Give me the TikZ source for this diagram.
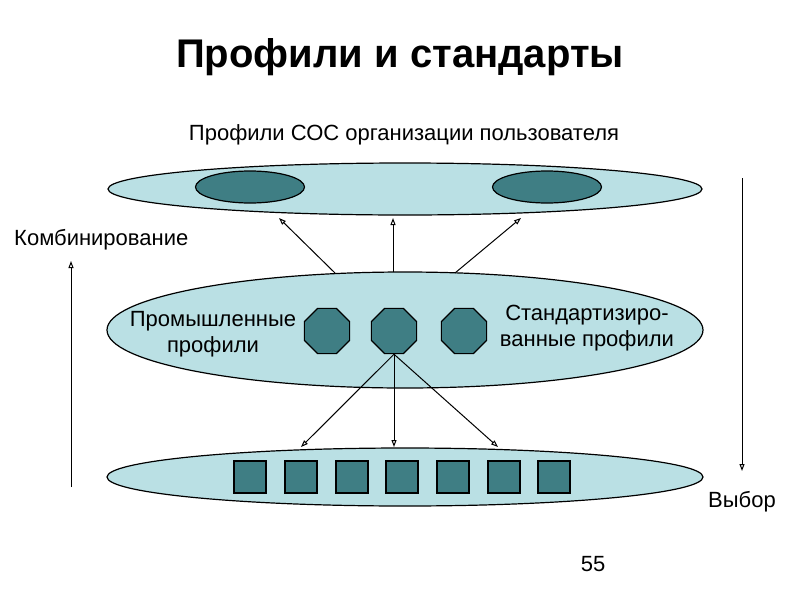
\documentclass[tikz,border=0pt]{standalone}
\usepackage{fontspec}
\setmainfont{Liberation Sans}
\usetikzlibrary{shapes.geometric,arrows.meta}
\definecolor{lightfill}{RGB}{186,224,228}
\definecolor{darkfill}{RGB}{63,126,132}
\tikzset{
  disc/.style={ellipse, draw=black, line width=1.2pt, fill=lightfill, inner sep=0pt},
  blob/.style={ellipse, draw=black, line width=1.2pt, fill=darkfill, inner sep=0pt, minimum width=109pt, minimum height=32pt},
  octo/.style={regular polygon, regular polygon sides=8, draw=black, line width=1.2pt, fill=darkfill, inner sep=0pt, minimum size=49pt},
  sq/.style={rectangle, draw=black, line width=1.2pt, fill=darkfill, inner sep=0pt, minimum width=32pt, minimum height=32pt},
  arr/.style={line width=1pt, -{Triangle[open, length=7pt, width=5pt]}},
  lbl/.style={font=\fontsize{22}{26}\selectfont, align=center, inner sep=0pt},
}
\begin{document}
\begin{tikzpicture}[x=1pt,y=-1pt]
\useasboundingbox (0,0) rectangle (800,600);
\node[font=\bfseries\fontsize{40}{44}\selectfont] (title) at (400,57) {Профили и стандарты};
\node[lbl] (toplbl) at (404,135) {Профили СОС организации пользователя};
% top
\node[disc, minimum width=594pt, minimum height=52pt] (T) at (405,189) {};
\node[blob] (b1) at (250,187) {};
\node[blob] (b2) at (547,187) {};
% middle
\node[disc, minimum width=596pt, minimum height=116pt] (M) at (405,330) {};
\node[octo] (o1) at (327,331) {};
\node[octo] (o2) at (394,331) {};
\node[octo] (o3) at (464,331) {};
\node[lbl] (ind) at (213,334) {Промышленные\\профили};
\node[lbl] (std) at (587,328) {Стандартизиро-\\ванные профили};
% bottom
\node[disc, minimum width=596pt, minimum height=58pt] (B) at (405,477) {};
\foreach \i/\x in {1/250,2/301,3/352,4/402,5/453,6/504,7/554}{
  \node[sq] (s\i) at (\x,477) {};
}
% arrows up
\coordinate (u1) at (279,218);
\coordinate (u2) at (393,218);
\coordinate (u3) at (521,218);
\coordinate (m1) at (335,273);
\coordinate (m2) at (393,272);
\coordinate (m3) at (455,273);
\draw[arr] (m1) -- (u1);
\draw[arr] (m2) -- (u2);
\draw[arr] (m3) -- (u3);
% arrows down
\coordinate (d1) at (301,447);
\coordinate (d2) at (394,447);
\coordinate (d3) at (498,447);
\draw[arr] (o2.south) -- (d1);
\draw[arr] (o2.south) -- (d2);
\draw[arr] (o2.south) -- (d3);
% side arrows
\node[lbl, anchor=west] (comb) at (14,240) {Комбинирование};
\coordinate (l0) at (71,487);
\coordinate (l1) at (71,261);
\draw[arr] (l0) -- (l1);
\coordinate (r0) at (742,178);
\coordinate (r1) at (742,471);
\draw[arr] (r0) -- (r1);
\node[lbl] (vyb) at (742,502) {Выбор};
\node[lbl] (pg) at (593,564) {55};
\end{tikzpicture}
\end{document}
